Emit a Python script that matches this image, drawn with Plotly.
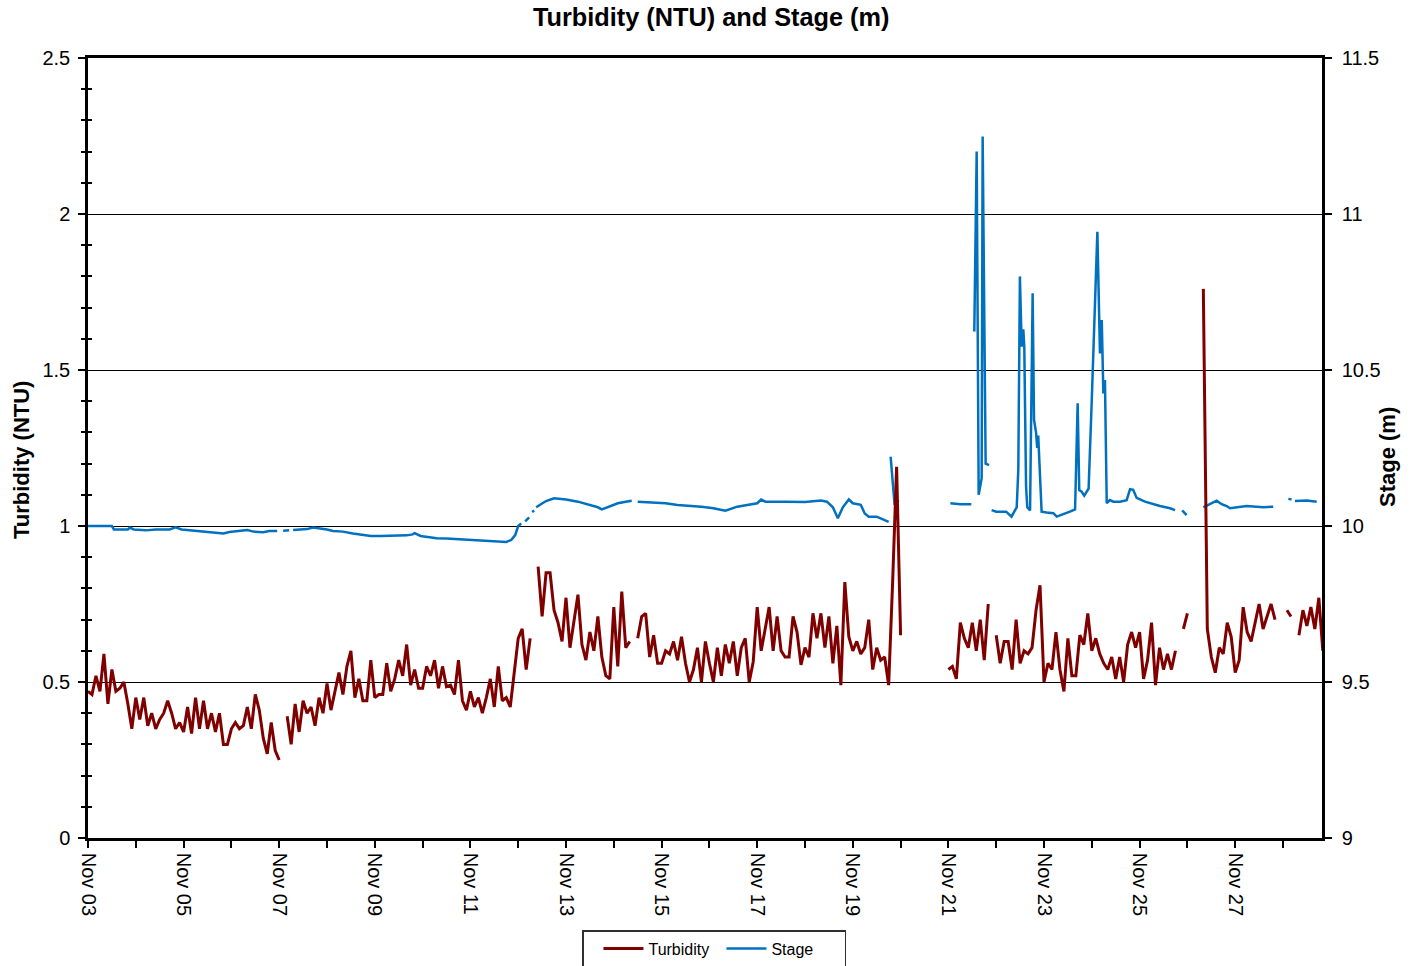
import pandas as pd
import plotly.graph_objects as go

START = pd.Timestamp("2008-11-03 00:00")
X_END = pd.Timestamp("2008-11-28 19:35")
SAMPLE_HOURS = 2  # turbidity logging interval

# Turbidity (NTU), one reading every 2 hours from Nov 03 00:00 (None = no data)
turbidity = [
    # Nov 03
    0.47, 0.46, 0.52, 0.47, 0.59, 0.43, 0.54, 0.47, 0.48, 0.50, 0.43, 0.35,
    # Nov 04
    0.45, 0.38, 0.45, 0.36, 0.40, 0.35, 0.38, 0.40, 0.44, 0.40, 0.35, 0.37,
    # Nov 05
    0.34, 0.42, 0.335, 0.45, 0.35, 0.44, 0.35, 0.40, 0.34, 0.40, 0.30, 0.30,
    # Nov 06
    0.35, 0.37, 0.35, 0.36, 0.42, 0.35, 0.46, 0.41, 0.32, 0.27, 0.37, 0.28,
    # Nov 07
    0.25, None, 0.39, 0.30, 0.43, 0.34, 0.44, 0.40, 0.42, 0.36, 0.45, 0.40,
    # Nov 08
    0.495, 0.41, 0.47, 0.53, 0.46, 0.55, 0.60, 0.45, 0.51, 0.44, 0.44, 0.57,
    # Nov 09
    0.45, 0.46, 0.46, 0.56, 0.47, 0.51, 0.57, 0.52, 0.62, 0.49, 0.54, 0.48,
    # Nov 10
    0.48, 0.55, 0.52, 0.57, 0.48, 0.55, 0.485, 0.49, 0.46, 0.57, 0.44, 0.41,
    # Nov 11
    0.47, 0.42, 0.45, 0.40, 0.45, 0.51, 0.42, 0.55, 0.44, 0.45, 0.42, 0.54,
    # Nov 12
    0.64, 0.67, 0.54, 0.64, None, 0.87, 0.71, 0.85, 0.85, 0.73, 0.69, 0.63,
    # Nov 13
    0.77, 0.61, 0.69, 0.78, 0.62, 0.57, 0.66, 0.60, 0.71, 0.58, 0.52, 0.51,
    # Nov 14
    0.74, 0.55, 0.79, 0.61, 0.63, None, 0.64, 0.71, 0.72, 0.58, 0.65, 0.56,
    # Nov 15
    0.56, 0.60, 0.59, 0.63, 0.57, 0.645, 0.56, 0.50, 0.54, 0.61, 0.50, 0.63,
    # Nov 16
    0.56, 0.50, 0.61, 0.52, 0.62, 0.56, 0.63, 0.52, 0.61, 0.64, 0.50, 0.565,
    # Nov 17
    0.74, 0.60, 0.67, 0.74, 0.60, 0.71, 0.60, 0.58, 0.58, 0.71, 0.66, 0.555,
    # Nov 18
    0.61, 0.58, 0.72, 0.64, 0.72, 0.61, 0.71, 0.56, 0.68, 0.49, 0.82, 0.645,
    # Nov 19
    0.60, 0.63, 0.59, 0.61, 0.70, 0.54, 0.61, 0.57, 0.58, 0.49, 0.82, 1.19,
    # Nov 20
    0.65, None, None, None, None, None, None, None, None, None, None, None,
    # Nov 21
    0.54, 0.55, 0.51, 0.69, 0.64, 0.61, 0.69, 0.60, 0.70, 0.57, 0.75, None,
    # Nov 22
    0.65, 0.56, 0.63, 0.63, 0.54, 0.70, 0.56, 0.60, 0.59, 0.61, 0.73, 0.81,
    # Nov 23
    0.50, 0.56, 0.54, 0.66, 0.54, 0.47, 0.64, 0.52, 0.52, 0.65, 0.62, 0.72,
    # Nov 24
    0.60, 0.64, 0.59, 0.56, 0.54, 0.58, 0.51, 0.58, 0.50, 0.62, 0.66, 0.61,
    # Nov 25
    0.66, 0.51, 0.57, 0.69, 0.49, 0.61, 0.54, 0.59, 0.54, 0.60, None, 0.67,
    # Nov 26
    0.72, None, None, None, 1.76, 0.67, 0.58, 0.53, 0.61, 0.59, 0.69, 0.645,
    # Nov 27
    0.53, 0.57, 0.74, 0.66, 0.63, 0.69, 0.75, 0.67, 0.71, 0.75, 0.70, None,
    # Nov 28
    None, 0.73, 0.71, None, 0.65, 0.73, 0.68, 0.74, 0.67, 0.77, 0.60,
]

# Stage (m): hours since Nov 03 00:00 and the logged level (None = logger gap)
stage_hours = [
    0, 12, 13, 20, 21, 23, 29, 34, 41, 44, 47,
    54, 59, 63, 68, 71, 76, 80, 83, 88, 91, 95, 96,
    98, 101, 102,
    103, 106, 110, 113, 116, 120, 123, 128, 133, 138, 142, 147, 153,
    157, 160, 163, 164, 167, 172, 175, 180, 185, 188, 192, 197, 202, 205, 210,
    212.5, 214.5, 216, 217.5, 218.5,
    219.5, 221.5, 222.5,
    223, 224, 224.5,
    225, 227, 230, 234, 240, 246, 250, 256, 258, 262, 266, 270, 273, 274.5,
    276, 282, 290, 296, 302, 308, 314, 318, 320, 326, 330, 336, 338, 340, 350, 360, 368,
    371, 374, 376.5, 379, 382, 384, 388, 390, 392, 396, 398, 400, 402, 402.5,
    403, 405, 407, 408,
    433, 438, 443.5, 444.2,
    445, 446.2, 447.2, 448.7, 449.2, 450.7, 452.4, 453,
    453.7, 456, 461, 463.7, 465.4, 466.3, 467.1, 467.9, 468.8, 469.6, 470.1, 471.0, 471.6, 473.0,
    474.3, 475.0, 476.0, 476.6, 477.1, 478.8, 481.3, 484.7, 486.4, 489.7, 493.0, 495.6,
    496.9, 497.7, 498.9, 500.2, 502.4, 504.1, 505.1, 506.8, 508.1, 509.0, 509.8, 510.6, 511.5,
    513.1, 514.8, 518.2, 521.5, 523.2, 524.8, 526.5, 530.7, 534.9, 538.2, 543.3, 545.8, 547.5,
    549.4, 551.6, 553,
    560.0, 563.3, 566.7, 569.2, 571.7, 573.4, 576.7, 581.7, 590.1, 595.1, 598,
    602.7, 604.3, 605,
    606, 611.9, 616.9,
]
stage = [
    10.000, 10.000, 9.989, 9.989, 9.995, 9.989, 9.986, 9.989, 9.989, 9.996, 9.989,
    9.985, 9.982, 9.980, 9.976, 9.981, 9.985, 9.987, 9.982, 9.980, 9.984, 9.984, None,
    9.985, 9.986, None,
    9.987, 9.989, 9.990, 9.995, 9.993, 9.989, 9.984, 9.982, 9.976, 9.971, 9.968, 9.968, 9.968,
    9.970, 9.970, 9.973, 9.977, 9.968, 9.964, 9.961, 9.960, 9.958, 9.957, 9.955, 9.953, 9.952, 9.950, 9.949,
    9.955, 9.971, 10.000, 10.008, None,
    10.015, 10.028, None,
    10.045, 10.050, None,
    10.060, 10.067, 10.080, 10.089, 10.085, 10.078, 10.071, 10.060, 10.053, 10.062, 10.073, 10.078, 10.081, None,
    10.078, 10.075, 10.073, 10.067, 10.065, 10.062, 10.057, 10.053, 10.049, 10.062, 10.066, 10.073, 10.085, 10.078, 10.078, 10.077, 10.082,
    10.078, 10.060, 10.025, 10.060, 10.085, 10.073, 10.068, 10.040, 10.030, 10.030, 10.025, 10.020, 10.013, None,
    10.222, 10.068, 10.083, None,
    10.073, 10.070, 10.070, None,
    10.623, 11.200, 10.100, 10.153, 11.248, 10.200, 10.195, None,
    10.051, 10.046, 10.046, 10.030, 10.050, 10.060, 10.180, 10.800, 10.575, 10.630, 10.575, 10.126, 10.060, 10.050,
    10.746, 10.340, 10.300, 10.250, 10.290, 10.046, 10.043, 10.041, 10.030, 10.037, 10.046, 10.053,
    10.393, 10.115, 10.110, 10.097, 10.120, 10.425, 10.596, 10.943, 10.553, 10.660, 10.425, 10.468, 10.073,
    10.083, 10.078, 10.078, 10.083, 10.118, 10.116, 10.090, 10.078, 10.070, 10.064, 10.057, 10.051, None,
    10.050, 10.035, None,
    10.060, 10.070, 10.081, 10.070, 10.064, 10.057, 10.060, 10.064, 10.060, 10.062, None,
    10.087, 10.085, None,
    10.080, 10.082, 10.078,
]

turb_time = [START + pd.Timedelta(hours=SAMPLE_HOURS * i) for i in range(len(turbidity))]
stage_time = [START + pd.Timedelta(hours=h) for h in stage_hours]

FONT = "Liberation Sans, Arial, Helvetica, sans-serif"
DAY_MS = 86400000
W, H = 1414, 966

fig = go.Figure()
# Turbidity sits on the overlay axis (y2) so it is drawn above the stage line
fig.add_trace(go.Scatter(
    x=turb_time, y=turbidity, name="Turbidity", mode="lines", yaxis="y2",
    line=dict(color="#800000", width=3),
))
fig.add_trace(go.Scatter(
    x=stage_time, y=stage, name="Stage", mode="lines", yaxis="y",
    line=dict(color="#0070C0", width=2.5),
))
# carrier for the inner half of the left-axis minor ticks
fig.add_trace(go.Scatter(x=[START], y=[None], yaxis="y3", showlegend=False,
                         hoverinfo="skip", mode="lines"))

fig.update_layout(
    width=W, height=H,
    margin=dict(l=88, r=92, t=58, b=128),
    paper_bgcolor="white", plot_bgcolor="white",
    font=dict(family=FONT, size=20, color="black"),
    title=dict(
        text="<b>Turbidity (NTU) and Stage (m)</b>",
        x=0.503, xref="container", xanchor="center",
        y=0.982, yref="container", yanchor="middle",
        font=dict(size=25.3, family=FONT, color="black"),
    ),
    xaxis=dict(
        type="date", range=[START, X_END], automargin=False,
        tick0=START, dtick=2 * DAY_MS, tickformat="%b %d", tickangle=90,
        ticks="outside", ticklen=7, tickwidth=1.5, tickcolor="black",
        ticklabelstandoff=1,
        minor=dict(dtick=DAY_MS, ticks="outside", ticklen=7, tickwidth=1.5,
                   tickcolor="black"),
        showline=True, linecolor="black", linewidth=2.5, mirror=True,
        showgrid=False, zeroline=False,
        tickfont=dict(size=20),
    ),
    yaxis=dict(
        side="right", range=[9, 11.5], dtick=0.5, automargin=False,
        ticks="outside", ticklen=7, tickwidth=1.5, tickcolor="black",
        ticklabelstandoff=6,
        showline=True, linecolor="black", linewidth=2.5,
        showgrid=True, gridcolor="black", gridwidth=1.2, zeroline=False,
        tickfont=dict(size=20),
    ),
    yaxis2=dict(
        overlaying="y", side="left", range=[0, 2.5], dtick=0.5, automargin=False,
        ticks="outside", ticklen=7, tickwidth=1.5, tickcolor="black",
        ticklabelstandoff=4,
        minor=dict(dtick=0.1, ticks="outside", ticklen=4, tickwidth=1.5,
                   tickcolor="black"),
        showline=True, linecolor="black", linewidth=2.5,
        showgrid=False, zeroline=False,
        tickfont=dict(size=20),
    ),
    yaxis3=dict(
        overlaying="y", side="left", range=[0, 2.5], dtick=0.5, automargin=False,
        ticks="", showticklabels=False, showline=False,
        minor=dict(dtick=0.1, ticks="inside", ticklen=4, tickwidth=1.5,
                   tickcolor="black"),
        showgrid=False, zeroline=False,
    ),
    legend=dict(
        orientation="h", x=0.5053, xanchor="center", xref="container",
        y=1 - 930 / H, yanchor="top", yref="container",
        bordercolor="#303030", borderwidth=1.5, bgcolor="white",
        font=dict(size=16), itemwidth=40, entrywidth=68,
        title=dict(text="\u00a0", side="left", font=dict(size=16)),
        traceorder="normal",
    ),
    showlegend=True,
    annotations=[
        dict(text="<b>Turbidity (NTU)</b>", xref="paper", yref="paper",
             x=-66 / 1234, y=(838 - 460) / 780, textangle=-90,
             xanchor="center", yanchor="middle", showarrow=False,
             font=dict(size=22, family=FONT, color="black")),
        dict(text="<b>Stage (m)</b>", xref="paper", yref="paper",
             x=1 + 66 / 1234, y=(838 - 457) / 780, textangle=-90,
             xanchor="center", yanchor="middle", showarrow=False,
             font=dict(size=22, family=FONT, color="black")),
    ],
)

fig.write_html("out.html")
